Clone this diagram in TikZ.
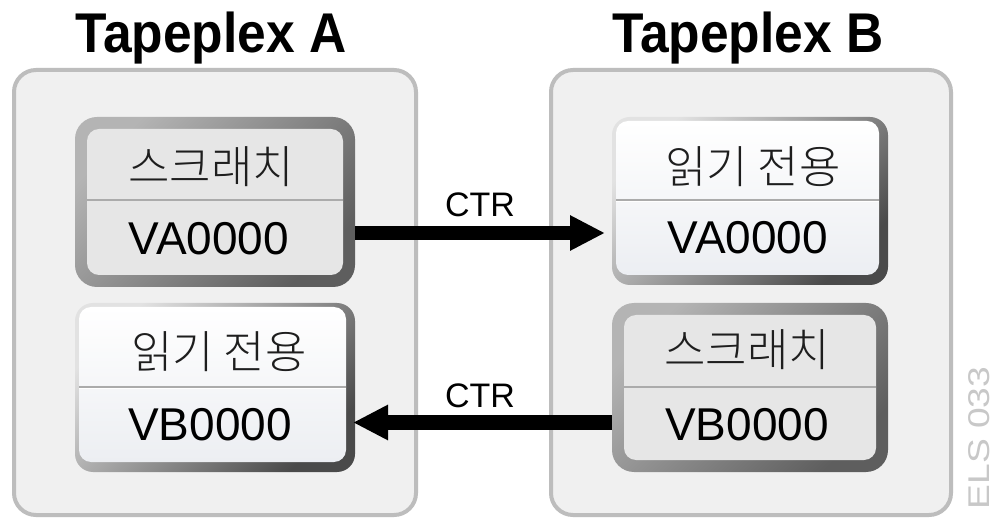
\documentclass[tikz,border=0pt]{standalone}
\usepackage{fontspec}
\setmainfont{Liberation Sans}
\newfontfamily\titlefont{Liberation Sans Bold}[FakeStretch=0.92]
\newfontfamily\krfont{Noto Sans CJK KR Light}
\newfontfamily\tagfont{Liberation Sans}[FakeStretch=1.24]
\usetikzlibrary{arrows.meta}

\definecolor{panelfill}{HTML}{F0F0F0}
\definecolor{panelline}{HTML}{BDBDBD}
\definecolor{scratchbg}{HTML}{E6E6E6}
\definecolor{scratchlight}{HTML}{B4B4B4}
\definecolor{scratchdark}{HTML}{5E5E5E}
\definecolor{rolight}{HTML}{E2E2E2}
\definecolor{rodark}{HTML}{4A4A4A}
\definecolor{robottom}{HTML}{ECEEF2}
\definecolor{divgray}{HTML}{ABABAB}
\definecolor{krtext}{HTML}{1E1E1E}
\definecolor{tagtext}{HTML}{C8C8C8}

\begin{document}
\begin{tikzpicture}[x=1pt,y=-1pt,
  every node/.style={inner sep=0pt, outer sep=0pt},
  panel/.style={draw=panelline, line width=4pt, fill=panelfill, rounded corners=22pt},
  scratchframe/.style={rounded corners=22pt, top color=scratchlight, bottom color=scratchdark, shading angle=45},
  scratchface/.style={rounded corners=12pt, fill=scratchbg},
  roframe/.style={rounded corners=18pt, top color=rolight, bottom color=rodark, shading angle=45},
  roface/.style={rounded corners=12pt, top color=white, bottom color=robottom},
  divider/.style={draw=divgray, line width=2pt},
  divlight/.style={draw=white, line width=1pt},
  title/.style={font=\titlefont\fontsize{56}{60}\selectfont, anchor=base},
  word/.style={font=\krfont\fontsize{45}{50}\selectfont, text=krtext},
  vol/.style={font=\fontsize{46}{50}\selectfont, anchor=base},
  ctrlabel/.style={font=\fontsize{34}{38}\selectfont, anchor=base},
  ctr/.style={line width=14pt, -{Triangle[length=35pt,width=33pt]}}
]
\useasboundingbox (0,0) rectangle (996,518);
\fill[white] (0,0) rectangle (996,518);

% titles
\node[title] (tA) at (211,53) {Tapeplex A};
\node[title] (tB) at (748,53) {Tapeplex B};

% tapeplex panels
\node[panel, minimum width=402pt, minimum height=445pt] (pA) at (215,292.5) {};
\node[panel, minimum width=400pt, minimum height=445pt] (pB) at (751,292.5) {};

% scratch volume VA0000 in tapeplex A
\node[scratchframe, minimum width=280pt, minimum height=170pt] (sA) at (215,202) {};
\node[scratchface, minimum width=256pt, minimum height=146pt] (sAf) at (215,202) {};
\draw[divider] (sAf.west |- 0,200) -- (sAf.east |- 0,200);
\node[word] (sAw) at (211,167) {스크래치};
\node[vol] (sAv) at (209,255) {VA0000};

% read-only volume VA0000 in tapeplex B
\node[roframe, minimum width=276pt, minimum height=168pt] (rA) at (750,201) {};
\node[roface, minimum width=263pt, minimum height=154pt] (rAf) at (747.5,198) {};
\draw[divider] (rAf.west |- 0,200) -- (rAf.east |- 0,200);
\draw[divlight] (rAf.west |- 0,202) -- (rAf.east |- 0,202);
\node[word] (rAw) at (753,167) {읽기 전용};
\node[vol] (rAv) at (748,254) {VA0000};

% read-only volume VB0000 in tapeplex A
\node[roframe, minimum width=280pt, minimum height=169pt] (rB) at (215,387.5) {};
\node[roface, minimum width=267pt, minimum height=155pt] (rBf) at (212.5,384.5) {};
\draw[divider] (rBf.west |- 0,387) -- (rBf.east |- 0,387);
\draw[divlight] (rBf.west |- 0,389) -- (rBf.east |- 0,389);
\node[word] (rBw) at (219,352) {읽기 전용};
\node[vol] (rBv) at (210,440) {VB0000};

% scratch volume VB0000 in tapeplex B
\node[scratchframe, minimum width=276pt, minimum height=169pt] (sB) at (750,387.5) {};
\node[scratchface, minimum width=252pt, minimum height=145pt] (sBf) at (750,387.5) {};
\draw[divider] (sBf.west |- 0,387) -- (sBf.east |- 0,387);
\node[word] (sBw) at (747,350) {스크래치};
\node[vol] (sBv) at (747,440) {VB0000};

% cross-tapeplex replication
\coordinate (rowA) at (0,233);
\coordinate (rowB) at (0,422.5);
\draw[ctr, shorten >=7pt] (sA.east |- rowA) -- (rA.west |- rowA);
\node[ctrlabel] (cA) at (480,217) {CTR};
\draw[ctr, shorten >=-2pt] (sB.west |- rowB) -- (rB.east |- rowB);
\node[ctrlabel] (cB) at (480,407) {CTR};

% figure tag
\node[font=\tagfont\fontsize{30}{34}\selectfont, text=tagtext, rotate=90] (tag) at (979,438) {ELS 033};
\end{tikzpicture}
\end{document}
